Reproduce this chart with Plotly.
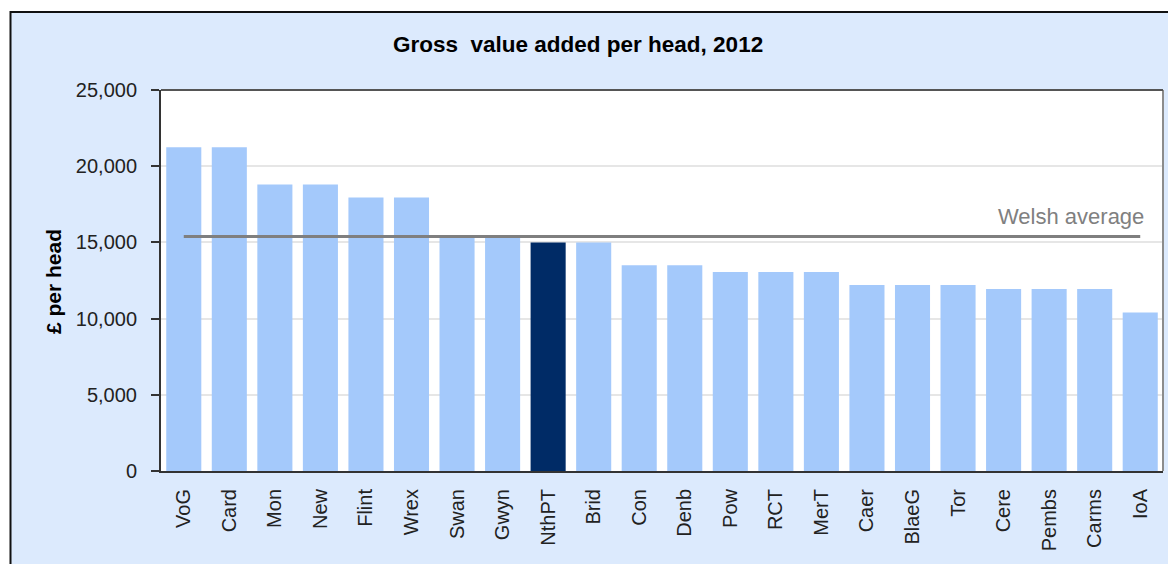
import plotly.graph_objects as go

categories = ["VoG", "Card", "Mon", "New", "Flint", "Wrex", "Swan", "Gwyn", "NthPT", "Brid",
              "Con", "Denb", "Pow", "RCT", "MerT", "Caer", "BlaeG", "Tor", "Cere", "Pembs",
              "Carms", "IoA"]
gva_per_head = [21250, 21250, 18800, 18800, 17950, 17950, 15300, 15300, 15000, 15000,
                13500, 13500, 13050, 13050, 13050, 12200, 12200, 12200, 11950, 11950,
                11950, 10400]
highlight = "NthPT"
welsh_average = 15380
y_ticks = [0, 5000, 10000, 15000, 20000, 25000]

LIGHT = "#A4C9FB"
DARK = "#002B66"
BG = "#DCEAFD"
FONT = "Liberation Sans, Arial, sans-serif"

# page body has an 8px margin: work in page coordinates shifted by OFF
OFF = 8
W, H = 1176 - OFF, 564 - OFF
PL, PR, PT, PB = 161 - OFF, 1163 - OFF, 90 - OFF, 471 - OFF
ML, MR, MT, MB = PL, W - PR, PT, H - PB
PW, PH = PR - PL, PB - PT

def px(x):
    return (x - OFF - PL) / PW

def py(y):
    return (PB - (y - OFF)) / PH

colors = [DARK if c == highlight else LIGHT for c in categories]

fig = go.Figure()
fig.add_trace(go.Bar(x=categories, y=gva_per_head, marker=dict(color=colors, line=dict(width=0)),
                     showlegend=False, hoverinfo="x+y"))
fig.add_trace(go.Scatter(x=[categories[0], categories[-1]], y=[welsh_average, welsh_average],
                         mode="lines", line=dict(color="#7F7F7F", width=3), showlegend=False,
                         hoverinfo="skip"))

fig.add_annotation(x=categories[-1], y=welsh_average, xref="x", yref="y",
                   text="Welsh average", showarrow=False, xanchor="right", yanchor="middle",
                   xshift=6, yshift=20, font=dict(family=FONT, size=22, color="#808080"))

fig.add_annotation(x=px(53), y=py(282), xref="paper", yref="paper", text="<b>£ per head</b>",
                   textangle=-90, showarrow=False, xanchor="center", yanchor="middle",
                   font=dict(family=FONT, size=21, color="#000000"))

fig.add_annotation(x=px(578), y=py(45), xref="paper", yref="paper",
                   text="<b>Gross\u00a0 value added per head, 2012</b>", showarrow=False,
                   xanchor="center", yanchor="middle",
                   font=dict(family=FONT, size=22.5, color="#000000"))

# white area outside the chart border and the border itself
fig.add_shape(type="rect", xref="paper", yref="paper", x0=px(-20), x1=px(10), y0=py(600), y1=py(-20),
              fillcolor="white", line=dict(width=0), layer="below")
fig.add_shape(type="rect", xref="paper", yref="paper", x0=px(-20), x1=px(1200), y0=py(12), y1=py(-20),
              fillcolor="white", line=dict(width=0), layer="below")
fig.add_shape(type="rect", xref="paper", yref="paper", x0=px(10.5), x1=px(1200), y0=py(600), y1=py(12),
              fillcolor="rgba(0,0,0,0)", line=dict(color="#111111", width=2), layer="below")
# plot area right edge and top edge
fig.add_shape(type="line", xref="paper", yref="paper", x0=1, x1=1, y0=0, y1=1,
              line=dict(color="#8C8C8C", width=2), layer="above")
fig.add_shape(type="line", xref="paper", yref="paper", x0=0, x1=1, y0=1, y1=1,
              line=dict(color="#555555", width=2), layer="above")

fig.update_layout(
    width=W, height=H,
    margin=dict(l=ML, r=MR, t=MT, b=MB),
    paper_bgcolor=BG, plot_bgcolor="white",
    bargap=0.23,
    font=dict(family=FONT, color="#222222"),
    xaxis=dict(type="category", tickangle=-90, ticks="", showline=True, linecolor="#333333",
               linewidth=2, mirror=False, tickfont=dict(size=20, family=FONT, color="#222222"),
               ticklabelstandoff=8, showgrid=False),
    yaxis=dict(range=[0, 25000], tickvals=y_ticks, tickformat=",", ticks="outside", ticklen=8,
               tickcolor="#333333", tickwidth=2, showline=True, linecolor="#333333", linewidth=2,
               gridcolor="#E6E6E6", gridwidth=2, zeroline=False,
               tickfont=dict(size=20, family=FONT, color="#222222"), ticklabelstandoff=10),
)

fig.write_html("out.html")
